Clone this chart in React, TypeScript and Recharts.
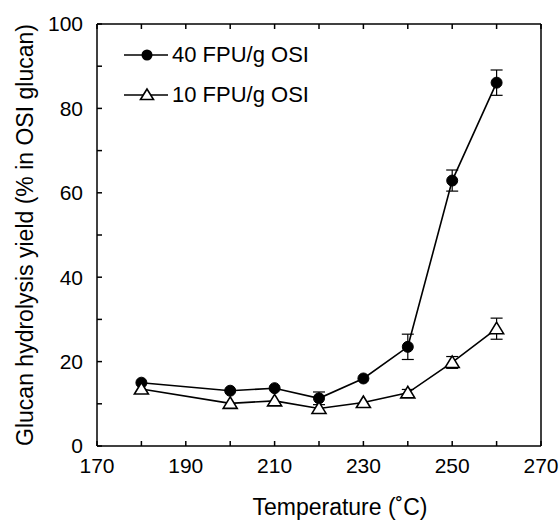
import React from 'react';
import { LineChart, Line, XAxis, YAxis, ErrorBar, Legend } from 'recharts';

const temperatures = [180, 200, 210, 220, 230, 240, 250, 260];
const yield40 = [15.0, 13.1, 13.7, 11.3, 16.0, 23.5, 62.9, 86.1];
const err40 = [0, 0, 0, 1.5, 0, 3.0, 2.5, 3.0];
const yield10 = [13.5, 10.1, 10.7, 8.9, 10.3, 12.6, 19.8, 27.8];
const err10 = [0, 0, 0, 0, 0, 0.8, 1.4, 2.5];

const xTicks = [170, 180, 190, 200, 210, 220, 230, 240, 250, 260, 270];
const yTicks = [0, 10, 20, 30, 40, 50, 60, 70, 80, 90, 100];

const data = temperatures.map((t, i) => ({
  t,
  y40: yield40[i],
  e40: err40[i],
  y10: yield10[i],
  e10: err10[i],
}));

const FONT = '"Liberation Sans", Arial, sans-serif';

// filled circle
const CircleDot = (props: any) => {
  const { cx, cy } = props;
  if (cx == null || cy == null) return null;
  return <circle cx={cx} cy={cy} r={5.5} fill="#000" stroke="#000" strokeWidth={1} />;
};

// open triangle
const TriangleDot = (props: any) => {
  const { cx, cy } = props;
  if (cx == null || cy == null) return null;
  const pts = `${cx},${cy - 6.5} ${cx - 7},${cy + 5} ${cx + 7},${cy + 5}`;
  return <polygon points={pts} fill="#fff" stroke="#000" strokeWidth={1.6} />;
};

const renderLegend = (props: any) => {
  const payload = [...(props.payload || [])].sort((a: any, b: any) =>
    a.dataKey === 'y40' ? -1 : b.dataKey === 'y40' ? 1 : 0
  );
  return (
    <div style={{ fontFamily: FONT, fontSize: 22, color: '#000' }}>
      {payload.map((entry: any) => (
        <div key={entry.value} style={{ display: 'flex', alignItems: 'center', height: 40 }}>
          <svg width={46} height={20} style={{ marginRight: 2 }}>
            <line x1={0} y1={10} x2={44} y2={10} stroke="#000" strokeWidth={1.6} />
            {entry.dataKey === 'y40' ? (
              <circle cx={23} cy={10} r={5.5} fill="#000" />
            ) : (
              <polygon points="23,4 16.5,14.5 29.5,14.5" fill="#fff" stroke="#000" strokeWidth={1.6} />
            )}
          </svg>
          <span>{entry.value}</span>
        </div>
      ))}
    </div>
  );
};

export default function App() {
  return (
    <div style={{ position: 'absolute', left: 0, top: 0, background: '#fff' }}>
      <LineChart
        width={560}
        height={520}
        data={data}
        margin={{ top: 23, right: 18, left: 0, bottom: 0 }}
        style={{ fontFamily: FONT }}
      >
        <XAxis
          dataKey="t"
          type="number"
          domain={[170, 270]}
          ticks={xTicks}
          interval={0}
          tickFormatter={(v: number) => (v % 20 === 10 ? String(v) : '')}
          height={74}
          tickSize={-5}
          tickMargin={17}
          stroke="#000"
          strokeWidth={1.5}
          tick={{ fontSize: 21, fill: '#000', fontFamily: FONT }}
          label={{
            content: (p: any) => {
              const vb = p.viewBox;
              return (
                <text
                  x={vb.x + vb.width / 2 + 21}
                  y={vb.y + vb.height - 5}
                  textAnchor="middle"
                  fontSize={23}
                  fill="#000"
                  fontFamily={FONT}
                >
                  Temperature (˚C)
                </text>
              );
            },
          }}
        />
        <XAxis
          xAxisId="top"
          dataKey="t"
          type="number"
          orientation="top"
          domain={[170, 270]}
          ticks={xTicks}
          interval={0}
          height={1}
          tickSize={-5}
          tickFormatter={() => ''}
          stroke="#000"
          strokeWidth={1.5}
        />
        <YAxis
          type="number"
          domain={[0, 100]}
          ticks={yTicks}
          interval={0}
          tickFormatter={(v: number) => (v % 20 === 0 ? String(v) : '')}
          width={97}
          tickSize={-5}
          tickMargin={19}
          stroke="#000"
          strokeWidth={1.5}
          tick={{ fontSize: 21, fill: '#000', fontFamily: FONT }}
          label={{
            content: (p: any) => {
              const vb = p.viewBox;
              const cx = 25;
              const cy = vb.y + vb.height / 2;
              return (
                <text
                  x={cx}
                  y={cy}
                  transform={`rotate(-90 ${cx} ${cy})`}
                  textAnchor="middle"
                  dominantBaseline="central"
                  fontSize={23}
                  fill="#000"
                  fontFamily={FONT}
                >
                  Glucan hydrolysis yield (% in OSI glucan)
                </text>
              );
            },
          }}
        />
        <YAxis
          yAxisId="right"
          type="number"
          orientation="right"
          domain={[0, 100]}
          ticks={yTicks}
          interval={0}
          width={1}
          tickSize={-5}
          tickFormatter={() => ''}
          stroke="#000"
          strokeWidth={1.5}
        />
        <Legend
          layout="horizontal"
          verticalAlign="middle"
          align="center"
          content={renderLegend}
          wrapperStyle={{ left: 124, top: 35, width: 'auto' }}
        />
        <Line
          dataKey="y40"
          name="40 FPU/g OSI"
          stroke="#000"
          strokeWidth={1.6}
          dot={<CircleDot />}
          activeDot={false}
          isAnimationActive={false}
        >
          <ErrorBar dataKey="e40" width={6} stroke="#000" strokeWidth={1.2} direction="y" />
        </Line>
        <Line
          dataKey="y10"
          name="10 FPU/g OSI"
          stroke="#000"
          strokeWidth={1.6}
          dot={<TriangleDot />}
          activeDot={false}
          isAnimationActive={false}
        >
          <ErrorBar dataKey="e10" width={6} stroke="#000" strokeWidth={1.2} direction="y" />
        </Line>
      </LineChart>
    </div>
  );
}
